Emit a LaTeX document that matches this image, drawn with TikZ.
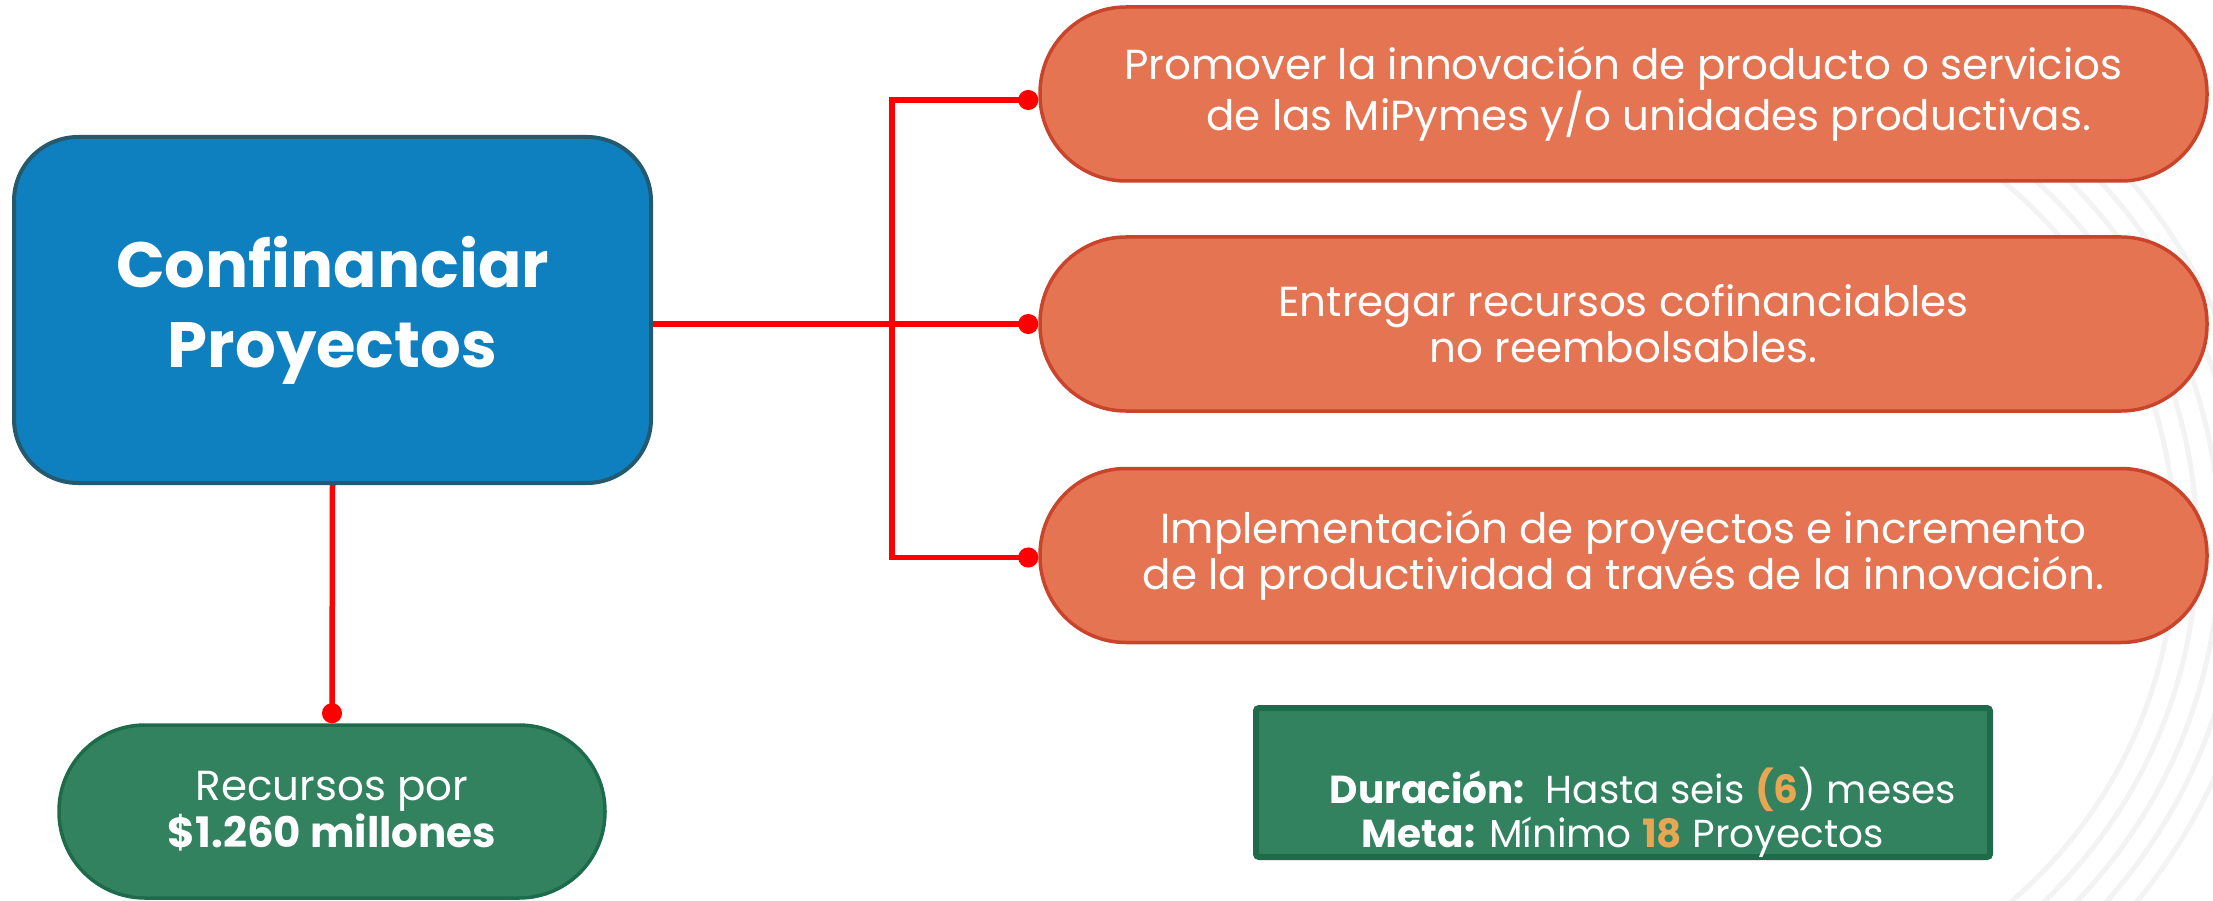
\documentclass[tikz,border=0pt]{standalone}
\usepackage{fontspec}
\setmainfont{Poppins}
\usetikzlibrary{arrows.meta}
\definecolor{bluefill}{HTML}{0F80BF}
\definecolor{blueline}{HTML}{24596E}
\definecolor{orfill}{HTML}{E57452}
\definecolor{orline}{HTML}{C9442A}
\definecolor{grfill}{HTML}{33825F}
\definecolor{grline}{HTML}{1D6B4A}
\definecolor{accent}{HTML}{E8A653}
\definecolor{conn}{HTML}{FF0000}
\definecolor{faint}{HTML}{F3F3F3}
\tikzset{
  mainbox/.style={draw=blueline, fill=bluefill, line width=4pt, rounded corners=64pt,
    minimum width=637pt, minimum height=346pt, text=white, align=center,
    font=\fontsize{64}{80}\selectfont\bfseries},
  orpill/.style={draw=orline, fill=orfill, line width=3.5pt, rounded corners=86pt,
    minimum width=1167pt, minimum height=174pt, text=white, align=center,
    font=\fontsize{42}{46}\selectfont},
  grpill/.style={draw=grline, fill=grfill, line width=3.5pt, rounded corners=86pt,
    minimum width=546pt, minimum height=173pt, text=white, align=center,
    font=\fontsize{42}{47}\selectfont},
  grbox/.style={draw=grline, fill=grfill, line width=6pt, rounded corners=3pt,
    minimum width=734pt, minimum height=149pt},
  grtext/.style={text=white, align=center, font=\fontsize{39}{44}\selectfont},
  link/.style={draw=conn, line width=5.5pt, -{Circle[length=20pt,width=20pt]}},
  link2/.style={draw=conn, line width=5.5pt, {Circle[length=20pt,width=20pt]}-{Circle[length=20pt,width=20pt]}},
  bgarc/.style={draw=faint, line width=5pt}
}
\begin{document}
\begin{tikzpicture}[x=1pt,y=-1pt]
\useasboundingbox (0,0) rectangle (2213,901);
\begin{scope}
\clip (0,0) rectangle (2213,901);
\foreach \r in {470,492,515,537,560}{
  \draw[bgarc] (1705,545) ++(-52:\r) arc[start angle=-52, end angle=52, radius=\r];
}
\end{scope}
\node[mainbox] (main) at (332.5,310) {Confinanciar\\Proyectos};
\node[orpill] (p1) at (1623.5,94) {Promover la innovación de producto o servicios\\\hspace*{1.2em}de las MiPymes y/o unidades productivas.};
\node[orpill] (p2) at (1623.5,324) {Entregar recursos cofinanciables\\no reembolsables.};
\node[orpill] (p3) at (1623.5,555.5) {Implementación de proyectos e incremento\\de la productividad a través de la innovación.};
\node[grpill] (rec) at (332,811.5) {Recursos por\\\textbf{\$1.260 millones}};
\node[grbox] (gb) at (1623,782.5) {};
\node[grtext] (gt) at ([yshift=-30pt]gb.center) {\hspace*{40pt}\textbf{Duración:}\ \ Hasta seis {\color{accent}\textbf{(6}})~meses\\\textbf{Meta:} Mínimo {\color{accent}\textbf{18}} Proyectos};
\coordinate (jx) at (892,324);
\draw[link] (main.east |- p2.west) -- (p2.west);
\draw[link2] ([yshift=-6pt]p1.west) -- ([yshift=-6pt]p1.west -| jx) -- ([yshift=-2pt]p3.west -| jx) -- ([yshift=-2pt]p3.west);
\draw[link] (main.south) -- (rec.north);
\end{tikzpicture}
\end{document}
